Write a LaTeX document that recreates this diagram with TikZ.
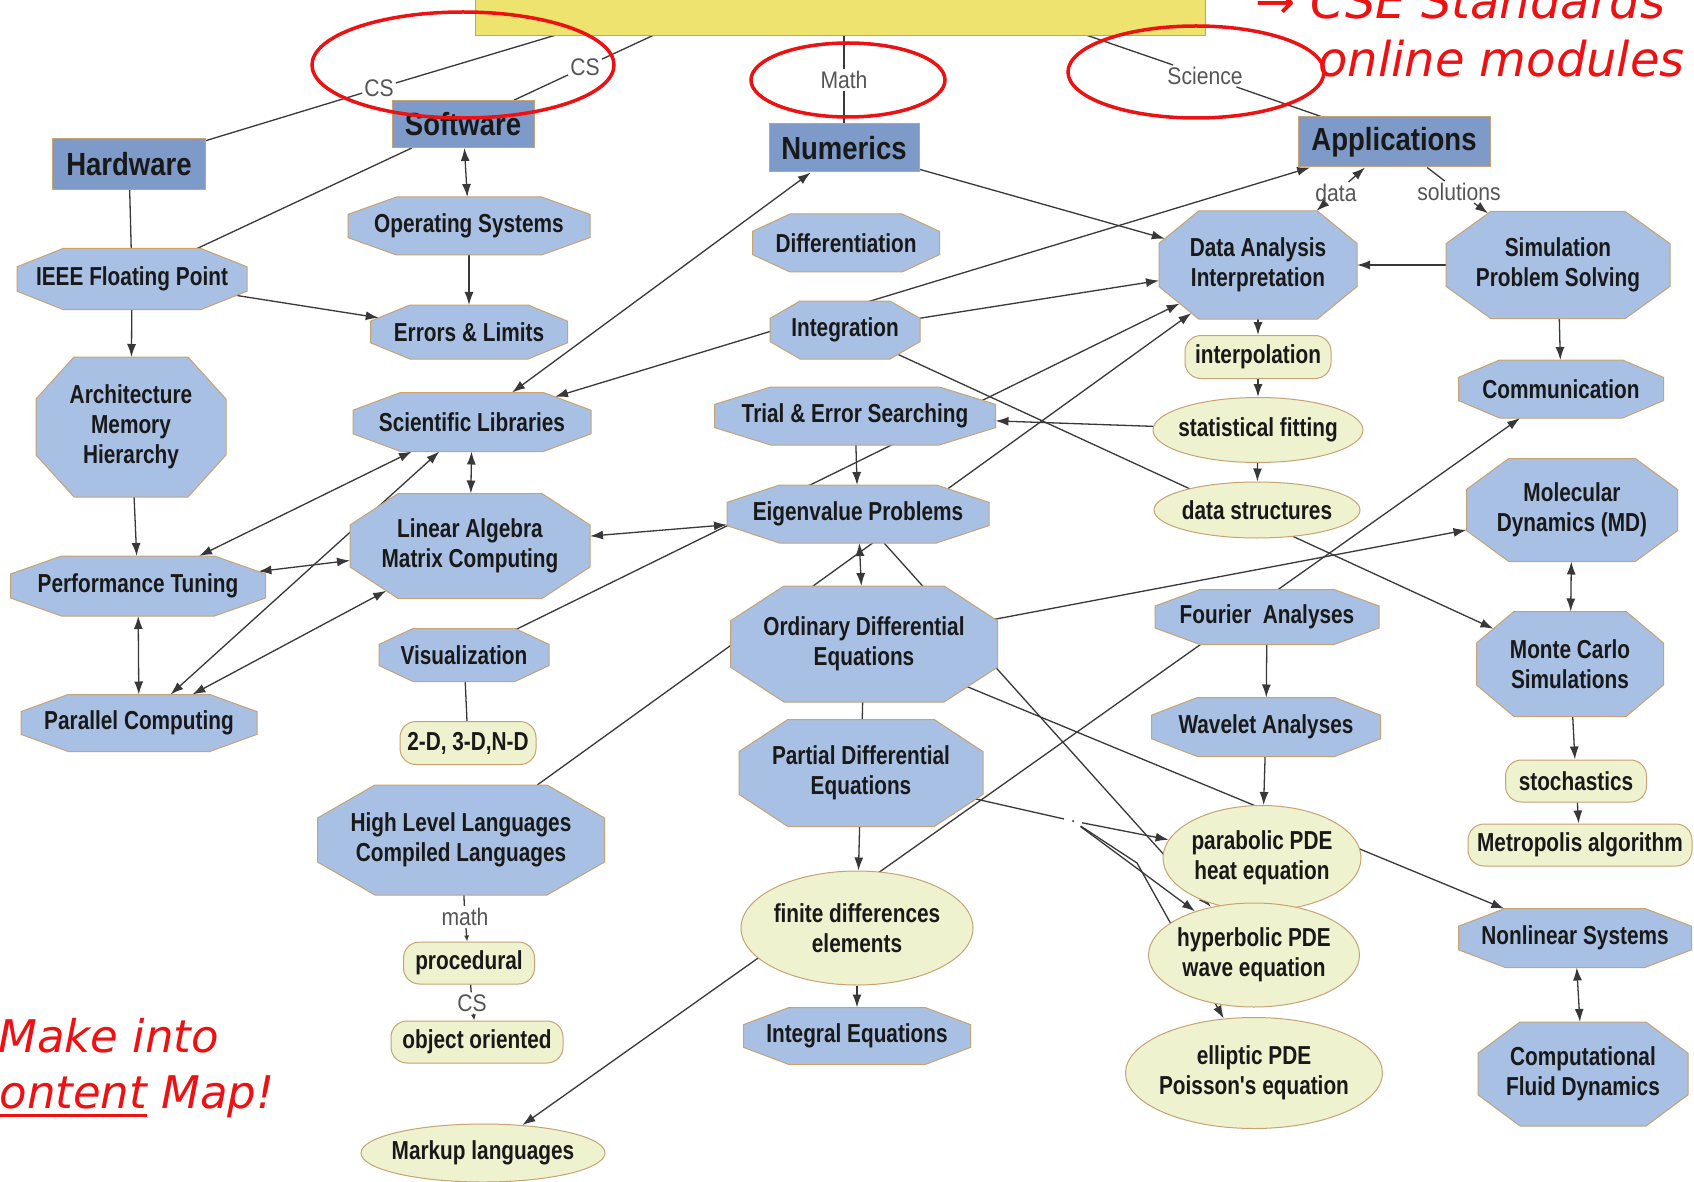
\documentclass[tikz,border=0pt]{standalone}
\usepackage{fontspec}
\setmainfont{Liberation Sans}
\newfontfamily\nodefont[FakeStretch=0.8]{Liberation Sans}
\newfontfamily\catfont[FakeStretch=0.86]{Liberation Sans}
\newfontfamily\lblfont[FakeStretch=0.88]{Liberation Sans}
\newfontfamily\redfont{DejaVu Sans}
\usetikzlibrary{shapes.geometric,arrows.meta,backgrounds}
\definecolor{catfill}{HTML}{7E9AC8}
\definecolor{octfill}{HTML}{A8C0E4}
\definecolor{ellfill}{HTML}{EFF2CF}
\definecolor{nodeborder}{HTML}{C8A273}
\definecolor{edgecol}{HTML}{383838}
\definecolor{lblcol}{HTML}{555555}
\definecolor{annored}{HTML}{EE1111}
\definecolor{yel}{HTML}{EEE36E}
\newcommand\redul[1]{\setbox0=\hbox{#1}\rlap{\rule[-9pt]{\wd0}{3.5pt}}\box0\relax}

\makeatletter
\pgfkeys{/pgf/oct cutx/.initial=10pt, /pgf/oct cuty/.initial=10pt}
\pgfdeclareshape{octo}{%
  \inheritsavedanchors[from=rectangle]%
  \inheritanchor[from=rectangle]{center}%
  \inheritanchor[from=rectangle]{north}%
  \inheritanchor[from=rectangle]{south}%
  \inheritanchor[from=rectangle]{east}%
  \inheritanchor[from=rectangle]{west}%
  \saveddimen\octcx{\pgfmathsetlength\pgf@x{\pgfkeysvalueof{/pgf/oct cutx}}}%
  \saveddimen\octcy{\pgfmathsetlength\pgf@x{\pgfkeysvalueof{/pgf/oct cuty}}}%
  \backgroundpath{%
    \southwest \edef\octswx{\the\pgf@x}\edef\octswy{\the\pgf@y}%
    \northeast \edef\octnex{\the\pgf@x}\edef\octney{\the\pgf@y}%
    \pgfpathmoveto{\pgfpoint{\octswx+\octcx}{\octswy}}%
    \pgfpathlineto{\pgfpoint{\octnex-\octcx}{\octswy}}%
    \pgfpathlineto{\pgfpoint{\octnex}{\octswy+\octcy}}%
    \pgfpathlineto{\pgfpoint{\octnex}{\octney-\octcy}}%
    \pgfpathlineto{\pgfpoint{\octnex-\octcx}{\octney}}%
    \pgfpathlineto{\pgfpoint{\octswx+\octcx}{\octney}}%
    \pgfpathlineto{\pgfpoint{\octswx}{\octney-\octcy}}%
    \pgfpathlineto{\pgfpoint{\octswx}{\octswy+\octcy}}%
    \pgfpathclose
  }%
  \anchorborder{%
    \edef\octdx{\the\pgf@x}\edef\octdy{\the\pgf@y}%
    \southwest \edef\octswx{\the\pgf@x}\edef\octswy{\the\pgf@y}%
    \northeast \edef\octnex{\the\pgf@x}\edef\octney{\the\pgf@y}%
    \pgfmathsetmacro\octa{(\octnex-\octswx)/2}%
    \pgfmathsetmacro\octb{(\octney-\octswy)/2}%
    \pgfmathsetmacro\octm{max(abs(\octdx),abs(\octdy),0.001)}%
    \pgfmathsetmacro\octux{\octdx/\octm}%
    \pgfmathsetmacro\octuy{\octdy/\octm}%
    \pgfmathsetmacro\octt{min(\octa/max(abs(\octux),0.01), \octb/max(abs(\octuy),0.01), (\octcy*\octa+\octcx*\octb-\octcx*\octcy)/(\octcy*abs(\octux)+\octcx*abs(\octuy)))}%
    \pgfmathsetmacro\octrx{(\octnex+\octswx)/2+\octt*\octux}%
    \pgfmathsetmacro\octry{(\octney+\octswy)/2+\octt*\octuy}%
    \pgf@x=\octrx pt\relax
    \pgf@y=\octry pt\relax
  }%
}
\makeatother

\tikzset{
  nodetext/.style={font=\nodefont\bfseries\fontsize{26}{30}\selectfont, text=black!90, align=center},
  catnode/.style 2 args={shape=rectangle, draw=nodeborder, fill=catfill, line width=1pt,
    minimum width=#1, minimum height=#2, inner sep=0pt,
    font=\catfont\bfseries\fontsize{32}{36}\selectfont, text=black!90},
  octnode/.style 2 args={shape=octo, /pgf/oct cutx={0.2*#1}, /pgf/oct cuty={0.3*#2},
    draw=nodeborder, fill=octfill, line width=1pt, inner sep=0pt, outer sep=0pt,
    minimum width=#1, minimum height=#2, nodetext},
  rrnode/.style 2 args={shape=rectangle, rounded corners=16pt, draw=nodeborder, fill=ellfill,
    line width=1pt, minimum width=#1, minimum height=#2, inner sep=0pt, nodetext},
  ellnode/.style 2 args={shape=ellipse, draw=nodeborder, fill=ellfill, line width=1pt,
    minimum width=#1, minimum height=#2, inner sep=-10pt, nodetext},
  lbl/.style={font=\lblfont\fontsize{24}{28}\selectfont, text=lblcol, inner sep=2pt},
  conn/.style={draw=edgecol, line width=1.3pt},
  >={Latex[length=13pt,width=9pt]},
  smallarrow/.style={-{Latex[length=6pt,width=5pt]}},
  redtxt/.style={text=annored, inner sep=0pt},
}
\begin{document}
\begin{tikzpicture}[x=1pt,y=-1pt]
\useasboundingbox (0,0) rectangle (1694,1182);

% title box (cut off at the top)
\node[draw=gray!70, fill=yel, minimum width=730pt, minimum height=94pt, inner sep=0pt] (top) at (840,-12) {};
\coordinate (t1) at (556,35);
\coordinate (t2) at (654,35);
\coordinate (t3) at (844,35);
\coordinate (t4) at (1086,35);

% category boxes
\node[catnode={153}{51}] (hw) at (129,164) {Hardware};
\node[catnode={142}{47}] (sw) at (463,124) {Software};
\node[catnode={150}{48}] (num) at (844,148) {Numerics};
\node[catnode={192}{50}] (app) at (1394,142) {Applications};

% octagon concepts
\node[octnode={242}{58}] (os) at (469,226) {Operating Systems};
\node[octnode={230}{61}] (ieee) at (132,279) {IEEE Floating Point};
\node[octnode={197}{54}] (err) at (469,332) {Errors \& Limits};
\node[octnode={190}{140}] (arch) at (131,427) {Architecture\\Memory\\Hierarchy};
\node[octnode={238}{59}] (scilib) at (472,422) {Scientific Libraries};
\node[octnode={240}{105}] (linalg) at (470,546) {Linear Algebra\\Matrix Computing};
\node[octnode={255}{60}] (perf) at (138,586) {Performance Tuning};
\node[octnode={236}{57}] (par) at (139,723) {Parallel Computing};
\node[octnode={170}{53}] (vis) at (464,655) {Visualization};
\node[octnode={287}{110}] (hll) at (461,840) {High Level Languages\\Compiled Languages};
\node[octnode={187}{58}] (diff) at (846,243) {Differentiation};
\node[octnode={150}{58}] (integ) at (845,330) {Integration};
\node[octnode={281}{58}] (trial) at (855,416) {Trial \& Error Searching};
\node[octnode={262}{58}] (eig) at (858,514) {Eigenvalue Problems};
\node[octnode={267}{116}] (ode) at (864,644) {Ordinary Differential\\Equations};
\node[octnode={244}{107}] (pde) at (861,773) {Partial Differential\\Equations};
\node[octnode={227}{57}] (inteq) at (857,1036) {Integral Equations};
\node[octnode={198}{108}] (da) at (1258,265) {Data Analysis\\Interpretation};
\node[octnode={224}{55}] (four) at (1267,617) {Fourier~ Analyses};
\node[octnode={229}{59}] (wav) at (1266,727) {Wavelet Analyses};
\node[octnode={224}{107}] (sim) at (1558,265) {Simulation\\Problem Solving};
\node[octnode={205}{58}] (comm) at (1561,389) {Communication};
\node[octnode={211}{103}] (md) at (1572,510) {Molecular\\Dynamics (MD)};
\node[octnode={187}{105}] (mc) at (1570,664) {Monte Carlo\\Simulations};
\node[octnode={233}{59}] (nls) at (1575,938) {Nonlinear Systems};
\node[octnode={210}{104}] (cfd) at (1583,1074) {Computational\\Fluid Dynamics};

% rounded boxes
\node[rrnode={136}{43}] (twod) at (468,743) {2-D, 3-D,N-D};
\node[rrnode={131}{42}] (proc) at (469,963) {procedural};
\node[rrnode={172}{42}] (oo) at (477,1042) {object oriented};
\node[rrnode={146}{43}] (interp) at (1258,357) {interpolation};
\node[rrnode={141}{42}] (stoch) at (1576,781) {stochastics};
\node[rrnode={224}{42}] (metro) at (1580,845) {Metropolis algorithm};

% ellipses
\node[ellnode={210}{65}] (statfit) at (1258,430) {statistical fitting};
\node[ellnode={206}{56}] (datastr) at (1257,510) {data structures};
\node[ellnode={232}{114}] (fd) at (857,928) {finite differences\\elements};
\node[ellnode={198}{105}] (para) at (1262,858) {parabolic PDE\\heat equation};
\node[ellnode={211}{104}] (hyp) at (1254,955) {hyperbolic PDE\\wave equation};
\node[ellnode={257}{111}] (ell) at (1254,1073) {elliptic PDE\\Poisson{\char39}s equation};
\node[ellnode={244}{58}] (markup) at (483,1153) {Markup languages};

% linking phrases
\node[lbl] (lcs1) at (379,88) {CS};
\node[lbl] (lcs2) at (585,67) {CS};
\node[lbl] (lmath) at (844,80) {Math};
\node[lbl] (lsci) at (1205,76) {Science};
\node[lbl] (ldata) at (1336,193) {data};
\node[lbl] (lsol) at (1459,192) {solutions};
\node[lbl] (lmath2) at (465,917) {math};
\node[lbl] (lcs3) at (472,1003) {CS};
\node[circle, fill=lblcol, inner sep=0pt, minimum size=2.5pt, outer sep=8pt] (ldot) at (1073,821) {};
\coordinate (br) at (1137,863);

% connectors (behind the nodes)
\begin{scope}[on background layer]
\fill[white] (0,0) rectangle (1694,1182);
\draw[conn] (t1) -- (lcs1); \draw[conn] (lcs1) -- (hw);
\draw[conn] (t2) -- (lcs2); \draw[conn] (lcs2) -- (sw);
\draw[conn] (t3) -- (lmath); \draw[conn] (lmath) -- (num);
\draw[conn] (t4) -- (lsci); \draw[conn] (lsci) -- (app);

\draw[conn] (hw) -- (ieee);
\draw[conn] (sw) -- (ieee);
\draw[conn,<->] (sw) -- (os);
\draw[conn,->] (os) -- (err);
\draw[conn,->] (ieee) -- (err);
\draw[conn,->] (ieee) -- (arch);
\draw[conn,->] (arch) -- (perf);
\draw[conn,<->] (perf) -- (par);
\draw[conn,<->] (num) -- (scilib);
\draw[conn,<->] (app) -- (scilib);
\draw[conn,<->] (scilib) -- (linalg);
\draw[conn,<->] (scilib) -- (perf);
\draw[conn,<->] (scilib) -- (par);
\draw[conn,<->] (linalg) -- (perf);
\draw[conn,<->] (linalg) -- (par);
\draw[conn,<->] (linalg) -- (eig);
\draw[conn,->] (vis) -- (da);
\draw[conn] (vis) -- (twod);
\draw[conn,->] (hll) -- (da);
\draw[conn] (hll) -- (lmath2); \draw[conn,smallarrow] (lmath2) -- (proc);
\draw[conn] (proc) -- (lcs3); \draw[conn,smallarrow] (lcs3) -- (oo);
\draw[conn,<->] (markup) -- (comm);

\draw[conn,->] (num) -- (da);
\draw[conn,->] (integ) -- (da);
\draw[conn,->] (integ) -- (mc);
\draw[conn,->] (statfit) -- (trial);
\draw[conn,->] (trial) -- (eig);
\draw[conn,<->] (eig) -- (ode);
\draw[conn,->] (eig) -- (hyp);
\draw[conn,->] (ode) -- (md);
\draw[conn,->] (ode) -- (nls);
\draw[conn] (ode) -- (pde);
\draw[conn,->] (pde) -- (fd);
\draw[conn,->] (fd) -- (inteq);
\draw[conn] (pde) -- (ldot);
\draw[conn,->] (ldot) -- (para);
\draw[conn,->] (ldot) -- (hyp);
\draw[conn,->] (ldot) -- (br) -- (ell);
\draw[conn,->] (four) -- (wav);
\draw[conn,->] (wav) -- (para);

\draw[conn,->] (da) -- (interp);
\draw[conn,->] (interp) -- (statfit);
\draw[conn,->] (statfit) -- (datastr);
\draw[conn,->] (sim) -- (da);
\draw[conn,->] (sim) -- (comm);
\draw[conn,->] (ldata) -- (app);
\draw[conn,->] (ldata) -- (da);
\draw[conn] (app) -- (lsol); \draw[conn,->] (lsol) -- (sim);
\draw[conn,<->] (md) -- (mc);
\draw[conn,->] (mc) -- (stoch);
\draw[conn,->] (stoch) -- (metro);
\draw[conn,<->] (nls) -- (cfd);
\end{scope}

% red annotations
\draw[annored, line width=3.5pt] (463,65) ellipse [x radius=151pt, y radius=53pt];
\draw[annored, line width=3.5pt] (848,80) ellipse [x radius=97pt, y radius=37pt];
\draw[annored, line width=3.5pt] (1196,72) ellipse [x radius=128pt, y radius=46pt];
\node[redtxt, anchor=base west, font=\redfont\itshape\fontsize{48}{56}\selectfont] (cse) at (1255,19) {→ CSE Standards};
\node[redtxt, anchor=base west, font=\redfont\itshape\fontsize{48}{56}\selectfont] (onl) at (1318,77) {online modules};
\node[redtxt, anchor=base west, font=\redfont\itshape\fontsize{45}{52}\selectfont] (mk) at (-2,1052) {Make into};
\node[redtxt, anchor=base west, font=\redfont\itshape\fontsize{45}{52}\selectfont] (cm) at (-32,1108) {\redul{Content} Map!};
\end{tikzpicture}
\end{document}
